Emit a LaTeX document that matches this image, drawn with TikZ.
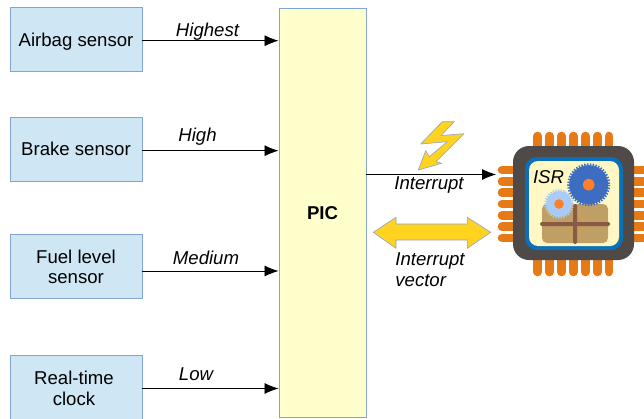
\documentclass[tikz,border=0pt]{standalone}
\usepackage{fontspec}
\setmainfont{Liberation Sans}
\usetikzlibrary{arrows.meta}
\definecolor{boxfill}{HTML}{CFE7F5}
\definecolor{boxline}{HTML}{83A6D0}
\definecolor{picfill}{HTML}{FFFFCC}
\definecolor{boltfill}{HTML}{FFD320}
\definecolor{boltline}{HTML}{8AA5C8}
\definecolor{pinc}{HTML}{E67A17}
\definecolor{chipc}{HTML}{4F4A48}
\definecolor{ringc}{HTML}{0A70B8}
\definecolor{creamc}{HTML}{FFF8C4}
\definecolor{parcelc}{HTML}{BF9F63}
\definecolor{crossc}{HTML}{8A5A44}
\definecolor{biggear}{HTML}{3C6DC0}
\definecolor{smallgear}{HTML}{A9CBF5}
\definecolor{hubc}{HTML}{FF7F27}
\tikzset{
  x=1pt,y=-1pt,
  every node/.style={font=\fontsize{18.6}{22}\selectfont},
  sensor/.style={draw=boxline,fill=boxfill,line width=.9pt,minimum width=132pt,minimum height=64pt,inner sep=0pt,align=center},
  pri/.style={font=\fontsize{18.6}{22}\selectfont\itshape,inner sep=0pt,align=left},
  conn/.style={line width=.8pt,-{Latex[length=14pt,width=11pt]}},
  pinh/.style={draw=pinc,line width=8.6pt,line cap=round},
  bolt/.style={fill=boltfill,draw=boltline,line width=.6pt,line join=round},
}
\begin{document}
\begin{tikzpicture}
\useasboundingbox (0,0) rectangle (644,418);
\clip (0,0) rectangle (644,418);
\node[sensor] (air) at (76,39) {\raisebox{-7pt}[0pt][0pt]{Airbag sensor}};
\node[sensor] (brake) at (76,149) {\raisebox{-6.7pt}[0pt][0pt]{Brake sensor}};
\node[sensor] (fuel) at (76,266) {\rule{0pt}{15.5pt}Fuel level\\[-2pt]sensor};
\node[sensor] (clock) at (76,387) {\rule{0pt}{15.5pt}Real-time\hspace*{4pt}\\[-1pt]clock\hspace*{4pt}};
\node[draw=boxline,fill=picfill,line width=.9pt,minimum width=87pt,minimum height=409pt,inner sep=0pt,font=\fontsize{18.6}{22}\selectfont\bfseries] (pic) at (322.5,212.5) {\raisebox{-7pt}[0pt][0pt]{PIC}};
\draw[conn] ([yshift=-1.7pt]air.east) -- ([yshift=-1.7pt]air.east -| pic.west);
\draw[conn] ([yshift=-1.7pt]brake.east) -- ([yshift=-1.7pt]brake.east -| pic.west);
\draw[conn] ([yshift=-5pt]fuel.east) -- ([yshift=-5pt]fuel.east -| pic.west);
\draw[conn] ([yshift=-1.5pt]clock.east) -- ([yshift=-1.5pt]clock.east -| pic.west);
\node[pri] (l1) at (207.5,31.5) {Highest};
\node[pri] (l2) at (197.5,136.5) {High};
\node[pri] (l3) at (206,257.5) {Medium};
\node[pri] (l4) at (196,374.5) {Low};
% chip
\foreach \px in {537.7,549.5,561.3,573.3,585.2,597.2,609}{
  \draw[pinh] (\px,136) -- (\px,152);
  \draw[pinh] (\px,256) -- (\px,272);
}
\foreach \py in {170,181.3,192.7,204,215.3,226.7,238}{
  \draw[pinh] (502,\py) -- (519,\py);
  \draw[pinh] (632,\py) -- (652,\py);
}
\coordinate (chipin) at (496,174.5);
\fill[chipc,rounded corners=16pt] (513,146) rectangle (634,260);
\fill[ringc,rounded corners=12pt] (525,157) rectangle (623,250);
\fill[creamc,rounded corners=9pt] (529,161) rectangle (619,246);
\fill[parcelc,rounded corners=5pt] (542,204) rectangle (608,243);
\fill[crossc,rounded corners=1.5pt] (540,222) rectangle (610,226);
\fill[crossc,rounded corners=1.5pt] (573,204) rectangle (577,244);
\fill[biggear] (588.7,184.7) circle (19.5);
\draw[biggear,line width=3pt,dash pattern=on 1.4pt off 1.4pt] (588.7,184.7) circle (20);
\fill[hubc] (588.7,184.7) circle (5.8);
\fill[smallgear] (559,204) circle (13);
\draw[smallgear,line width=2.5pt,dash pattern=on 1.3pt off 1.3pt] (559,204) circle (13.5);
\fill[hubc] (559,204) circle (4.8);
\node[pri] (isr) at (548.5,177) {ISR};
\draw[conn] (pic.east |- chipin) -- (chipin);
\node[pri] (int) at (429,185) {Interrupt};
\node[pri,font=\fontsize{18.6}{21.5}\selectfont\itshape] (vec) at (430,269.5) {Interrupt\\vector};
% bolt
\draw[bolt] (442.3,121.7) -- (454.3,121.7) -- (441,135.5) -- (464,133.7) -- (436,161.7) -- (441.7,163.3) -- (418.3,170) -- (425.7,150.7) -- (429.3,156.7) -- (447.3,141.7) -- (420.7,144) -- cycle;
% double arrow
\draw[bolt] (373.3,232.3) -- (396,217.3) -- (396,224) -- (467.3,224) -- (467.3,217.3) -- (490.7,232.3) -- (467.3,248.3) -- (467.3,240) -- (396,240) -- (396,248.3) -- cycle;
\end{tikzpicture}
\end{document}
